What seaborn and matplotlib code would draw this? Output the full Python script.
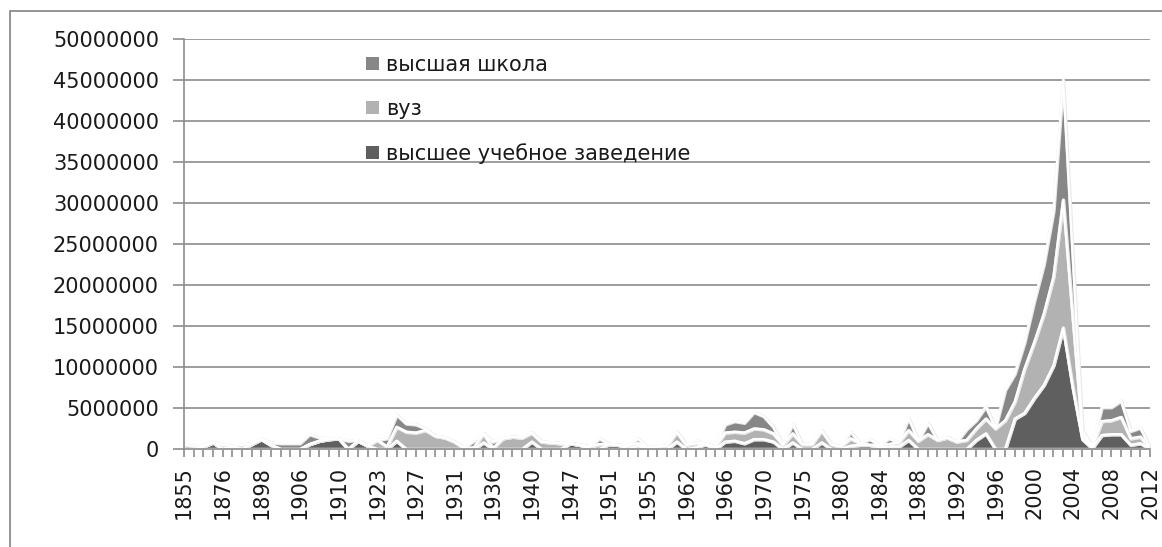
import pandas as pd
import seaborn as sns
import matplotlib.pyplot as plt
from matplotlib.patches import Patch, Rectangle

# categories (years, not evenly spaced)
years = [1855, 1860, 1865, 1870, 1876, 1880, 1890, 1895, 1898, 1900,
         1902, 1904, 1906, 1907, 1908, 1909, 1910, 1912, 1914, 1920,
         1923, 1924, 1925, 1926, 1927, 1928, 1929, 1930, 1931, 1932,
         1933, 1935, 1936, 1937, 1938, 1939, 1940, 1941, 1945, 1946,
         1947, 1948, 1949, 1950, 1951, 1952, 1953, 1954, 1955, 1957,
         1959, 1961, 1962, 1963, 1964, 1965, 1966, 1967, 1968, 1969,
         1970, 1971, 1972, 1973, 1975, 1976, 1977, 1978, 1980, 1981,
         1982, 1983, 1984, 1985, 1986, 1987, 1988, 1989, 1990, 1991,
         1992, 1993, 1994, 1995, 1996, 1997, 1998, 1999, 2000, 2001,
         2002, 2003, 2004, 2005, 2006, 2007, 2008, 2009, 2010, 2011, 2012]

# values in millions
vuz_full = [0.0, 0.0, 0.3, 0.8, 0.0, 0.3, 0.0, 0.6, 1.2, 0.5,
            0.0, 0.0, 0.0, 0.6, 1.0, 1.2, 1.3, 0.0, 1.0, 0.4,
            0.0, 0.0, 1.0, 0.0, 0.0, 0.0, 0.0, 0.0, 0.0, 0.0,
            0.0, 0.8, 0.0, 0.0, 0.0, 0.0, 0.9, 0.0, 0.0, 0.0,
            0.7, 0.5, 0.0, 0.0, 0.6, 0.5, 0.0, 0.4, 0.0, 0.0,
            0.0, 0.9, 0.0, 0.2, 0.6, 0.0, 0.9, 1.0, 0.7, 1.2,
            1.2, 0.9, 0.0, 0.8, 0.0, 0.0, 0.8, 0.0, 0.0, 0.4,
            0.5, 0.5, 0.2, 0.3, 0.3, 1.1, 0.0, 0.0, 0.0, 0.0,
            0.0, 0.0, 1.1, 1.9, 0.0, 0.0, 3.7, 4.4, 6.2, 7.8,
            10.2, 14.8, 7.5, 1.2, 0.1, 1.7, 1.8, 1.8, 0.5, 0.7, 0.05]

vuz = [0.0, 0.0, 0.0, 0.0, 0.0, 0.0, 0.0, 0.0, 0.0, 0.0,
       0.0, 0.0, 0.0, 0.0, 0.0, 0.0, 0.0, 0.0, 0.0, 0.0,
       1.1, 0.3, 1.7, 2.1, 2.0, 2.3, 1.6, 1.4, 0.9, 0.1,
       0.2, 1.1, 0.1, 1.3, 1.5, 1.4, 1.1, 0.9, 0.8, 0.7,
       0.0, 0.0, 0.3, 0.6, 0.0, 0.0, 0.4, 0.3, 0.2, 0.3,
       0.4, 1.2, 0.5, 0.5, 0.0, 0.3, 1.1, 1.1, 1.3, 1.3,
       1.2, 1.0, 0.5, 1.1, 0.6, 0.6, 1.5, 0.6, 0.3, 0.9,
       0.2, 0.0, 0.3, 0.3, 0.5, 1.2, 1.0, 1.8, 1.1, 1.4,
       0.9, 1.1, 1.4, 1.8, 2.5, 3.5, 2.1, 5.4, 6.8, 8.7,
       10.8, 15.6, 8.5, 0.6, 0.1, 1.7, 1.7, 2.1, 0.8, 0.8, 0.05]

vysh_shkola = [0.5, 0.4, 0.2, 0.1, 0.5, 0.1, 0.5, 0.1, 0.1, 0.3,
               0.7, 0.7, 0.7, 1.2, 0.4, 0.1, 0.0, 1.0, 0.1, 0.1,
               0.0, 1.0, 1.5, 1.0, 1.0, 0.2, 0.0, 0.0, 0.0, 0.1,
               0.8, 0.0, 0.8, 0.0, 0.0, 0.0, 0.0, 0.0, 0.0, 0.0,
               0.0, 0.0, 0.0, 0.7, 0.0, 0.0, 0.0, 0.6, 0.0, 0.0,
               0.0, 0.0, 0.0, 0.4, 0.0, 0.0, 1.0, 1.3, 1.2, 2.0,
               1.6, 0.8, 0.0, 1.2, 0.0, 0.0, 0.0, 0.0, 0.0, 0.8,
               0.0, 0.7, 0.0, 0.7, 0.0, 1.5, 0.0, 1.4, 0.0, 0.0,
               0.0, 1.3, 1.0, 1.5, 0.1, 3.7, 3.4, 3.2, 5.0, 6.0,
               8.0, 14.6, 7.5, 0.5, 0.1, 1.7, 1.6, 2.0, 0.9, 1.1, 0.1]

labels = ["высшее учебное заведение", "вуз", "высшая школа"]
colors = ["#5f5f5f", "#b2b2b2", "#878787"]

df = pd.DataFrame({"year": years,
                   labels[0]: vuz_full, labels[1]: vuz, labels[2]: vysh_shkola})
df["pos"] = range(len(df))
for c in labels:
    df[c] = df[c] * 1e6

sns.set_theme(style="white")
plt.rcParams["font.family"] = ["DejaVu Sans"]

fig = plt.figure(figsize=(11.62, 5.47), dpi=100)
ax = fig.add_axes([184 / 1162, 1 - 449 / 547, (1150 - 184) / 1162, (449 - 39) / 547])

# outer chart border
fig.patches.append(Rectangle((10 / 1162, -0.05), 1.1, 1 - 11 / 547 + 0.05,
                             transform=fig.transFigure, fill=False,
                             edgecolor="#8c8c8c", linewidth=1.3))

# stacked bands with a soft light edge
lower = pd.Series(0.0, index=df.index)
for c, col in zip(labels, colors):
    upper = lower + df[c]
    ax.fill_between(df["pos"], lower, upper, facecolor=col, edgecolor="#e8e8e8",
                    linewidth=2.5, zorder=3)
    lower = upper

# white outlines on the stacked boundaries
lower = pd.Series(0.0, index=df.index)
for c in labels:
    lower = lower + df[c]
    sns.lineplot(x=df["pos"], y=lower, color="white", linewidth=1.6, ax=ax,
                 zorder=4, estimator=None, solid_joinstyle="round")

ax.set_xlim(0, len(years) - 1)
ax.set_ylim(0, 50000000)
ax.set_yticks(range(0, 50000001, 5000000))
ax.set_yticklabels([str(v) for v in range(0, 50000001, 5000000)], fontsize=15)
ax.set_xticks(df["pos"][::4])
ax.set_xticklabels([str(y) for y in years[::4]], rotation=90, fontsize=15)
ax.set_xticks(df["pos"], minor=True)
ax.set_xlabel("")
ax.set_ylabel("")

ax.grid(axis="y", color="#8c8c8c", linewidth=1.2, zorder=0)
ax.grid(axis="x", visible=False)
ax.set_axisbelow(True)
for s in ["top", "right"]:
    ax.spines[s].set_visible(False)
for s in ["left", "bottom"]:
    ax.spines[s].set_color("#8c8c8c")
    ax.spines[s].set_linewidth(1.2)
    ax.spines[s].set_zorder(5)
ax.tick_params(axis="y", which="major", direction="out", length=8, width=1.2,
               color="#8c8c8c", left=True, pad=10, labelcolor="#1a1a1a")
ax.tick_params(axis="x", which="both", direction="out", length=6, width=1.2,
               color="#8c8c8c", bottom=True, pad=6, labelcolor="#1a1a1a")

handles = [Patch(facecolor=colors[i], edgecolor="none") for i in (2, 1, 0)]
ax.legend(handles, [labels[i] for i in (2, 1, 0)], loc="upper left",
          bbox_to_anchor=(366 / 1162, 1 - 55 / 547), bbox_transform=fig.transFigure,
          frameon=False, fontsize=15, handlelength=0.6, handleheight=0.6,
          handletextpad=0.35, labelspacing=1.15, borderpad=0, borderaxespad=0,
          labelcolor="#1a1a1a")

fig.savefig("out.png", dpi=100, facecolor="white")
